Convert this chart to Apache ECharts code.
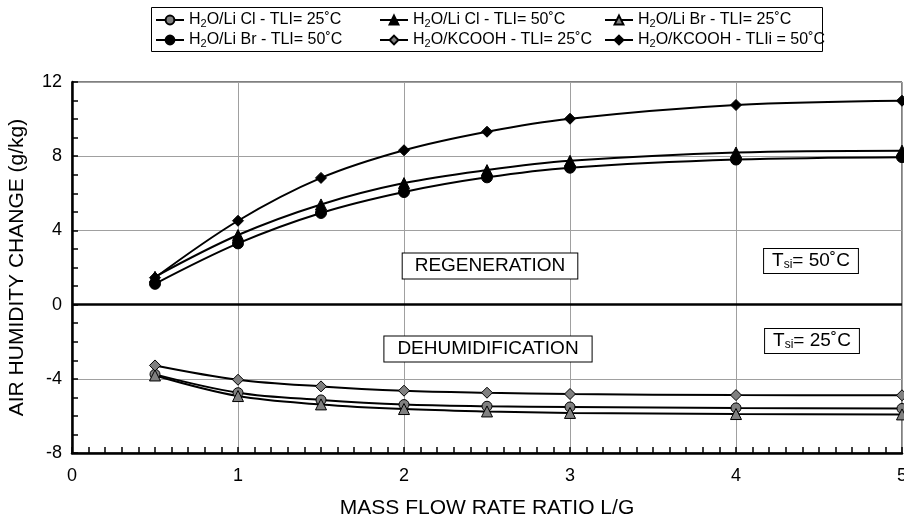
<!DOCTYPE html>
<html>
<head>
<meta charset="utf-8">
<script src="https://cdn.jsdelivr.net/npm/echarts@6/dist/echarts.min.js"></script>
<style>
html,body{margin:0;padding:0;background:#fff;}
#chart{width:904px;height:520px;}
</style>
</head>
<body>
<div id="chart"></div>
<script>
// ---- data ----
const xValues = [0.5, 1, 1.5, 2, 2.5, 3, 4, 5];
const liclT25 = [-3.76, -4.75, -5.14, -5.39, -5.48, -5.52, -5.57, -5.6];
const liclT50 = [1.5, 3.75, 5.4, 6.55, 7.25, 7.75, 8.2, 8.3];
const librT25 = [-3.82, -4.93, -5.38, -5.63, -5.76, -5.84, -5.9, -5.92];
const librT50 = [1.12, 3.3, 4.94, 6.07, 6.86, 7.38, 7.82, 7.95];
const kcoohT25 = [-3.28, -4.05, -4.41, -4.64, -4.75, -4.82, -4.88, -4.89];
const kcoohT50 = [1.45, 4.52, 6.83, 8.32, 9.32, 10.02, 10.76, 10.99];
const seriesNames = [
  'H2O/Li Cl - TLI= 25˚C',
  'H2O/Li Cl - TLI= 50˚C',
  'H2O/Li Br - TLI= 25˚C',
  'H2O/Li Br - TLI= 50˚C',
  'H2O/KCOOH - TLI= 25˚C',
  'H2O/KCOOH - TLIi = 50˚C'
];
const xTitle = 'MASS FLOW RATE RATIO L/G';
const yTitle = 'AIR HUMIDITY CHANGE (g/kg)';
const annotations = ['REGENERATION', 'DEHUMIDIFICATION'];
const tsiLabels = ['50˚C', '25˚C'];

const FONT = '"Liberation Sans", Arial, Helvetica, sans-serif';
const GRAY = '#808080';

function pts(arr) { return xValues.map((x, i) => [x, arr[i]]); }

function mkSeries(name, arr, symbol, fill, size) {
  return {
    name: name,
    type: 'line',
    data: pts(arr),
    smooth: 0.35,
    symbol: symbol,
    symbolSize: size,
    lineStyle: { color: '#000', width: 2 },
    itemStyle: { color: fill, borderColor: '#000', borderWidth: 1 },
    emphasis: { disabled: true },
    animation: false,
    z: 3
  };
}

const legendText = {
  fontSize: 16, fontFamily: FONT, color: '#000', lineHeight: 18,
  rich: { s: { fontSize: 11, fontFamily: FONT, color: '#000', padding: [7, 0, 0, 0] } }
};
function legendFmt(n) { return n.replace('H2O', 'H{s|2}O'); }
function mkLegend(names, left) {
  return {
    data: names, orient: 'vertical', left: left, top: 11,
    itemWidth: 28, itemHeight: 11, itemGap: 2, padding: 0,
    textStyle: legendText, formatter: legendFmt, selectedMode: false
  };
}

const chart = echarts.init(document.getElementById('chart'), null, { renderer: 'canvas' });

const series = [
  mkSeries(seriesNames[0], liclT25, 'circle', GRAY, 10),
  mkSeries(seriesNames[1], liclT50, 'triangle', '#000', 11),
  mkSeries(seriesNames[2], librT25, 'triangle', GRAY, 11),
  mkSeries(seriesNames[3], librT50, 'circle', '#000', 11),
  mkSeries(seriesNames[4], kcoohT25, 'diamond', GRAY, 11),
  mkSeries(seriesNames[5], kcoohT50, 'diamond', '#000', 11)
];
series[0].markLine = {
  silent: true, symbol: 'none', animation: false,
  label: { show: false },
  lineStyle: { color: '#000', width: 2.5, type: 'solid' },
  data: [{ yAxis: 0 }]
};

function boxText(text, x, y, pad) {
  return {
    type: 'text', x: x, y: y, z: 10,
    style: {
      text: text, font: '19px ' + FONT, fill: '#000',
      align: 'center', verticalAlign: 'middle',
      backgroundColor: '#fff', borderColor: '#000', borderWidth: 1,
      padding: pad,
      rich: {
        s: { fontSize: 12, fontFamily: FONT, fill: '#000', padding: [8, 0, 0, 0] }
      }
    }
  };
}

chart.setOption({
  backgroundColor: '#fff',
  animation: false,
  grid: {
    left: 72, right: 2, top: 82, bottom: 67,
    containLabel: false, outerBoundsMode: 'none',
    show: true, borderColor: '#000', borderWidth: 1
  },
  legend: [
    mkLegend([seriesNames[0], seriesNames[3]], 155),
    mkLegend([seriesNames[1], seriesNames[4]], 379),
    mkLegend([seriesNames[2], seriesNames[5]], 604)
  ],
  xAxis: {
    type: 'value', min: 0, max: 5, interval: 1,
    name: xTitle, nameLocation: 'middle', nameGap: 45,
    nameTextStyle: { fontSize: 21, fontFamily: FONT, color: '#000' },
    axisLine: { show: true, onZero: false, lineStyle: { color: '#000', width: 2.5 } },
    axisTick: { show: true, inside: true, length: 6, lineStyle: { color: '#000', width: 1.5 } },
    minorTick: { show: true, splitNumber: 10, length: 6, lineStyle: { color: '#000', width: 1.5 } },
    axisLabel: { fontSize: 18, fontFamily: FONT, color: '#000', margin: 14 },
    splitLine: { show: true, lineStyle: { color: '#a0a0a0', width: 1 } }
  },
  yAxis: {
    type: 'value', min: -8, max: 12, interval: 4,
    name: yTitle, nameLocation: 'middle', nameGap: 44, nameRotate: 90,
    nameTextStyle: { fontSize: 21, fontFamily: FONT, color: '#000' },
    axisLine: { show: true, onZero: false, lineStyle: { color: '#000', width: 2.5 } },
    axisTick: { show: true, inside: true, length: 6, lineStyle: { color: '#000', width: 1.5 } },
    minorTick: { show: true, splitNumber: 4, length: 6, lineStyle: { color: '#000', width: 1.5 } },
    axisLabel: { fontSize: 18, fontFamily: FONT, color: '#000', margin: 10 },
    splitLine: { show: true, lineStyle: { color: '#a0a0a0', width: 1 } }
  },
  graphic: [
    { type: 'rect', z: 10, shape: { x: 151.5, y: 7.5, width: 671, height: 44 }, style: { fill: 'none', stroke: '#000', lineWidth: 1 } },
    boxText(annotations[0], 490, 266, [3, 12, 3, 12]),
    boxText(annotations[1], 488, 349, [3, 13, 3, 13]),
    boxText('T{s|si}= ' + tsiLabels[0], 811, 261, [2, 8, 2, 8]),
    boxText('T{s|si}= ' + tsiLabels[1], 812, 341, [2, 8, 2, 8])
  ],
  series: series
});
</script>
</body>
</html>
